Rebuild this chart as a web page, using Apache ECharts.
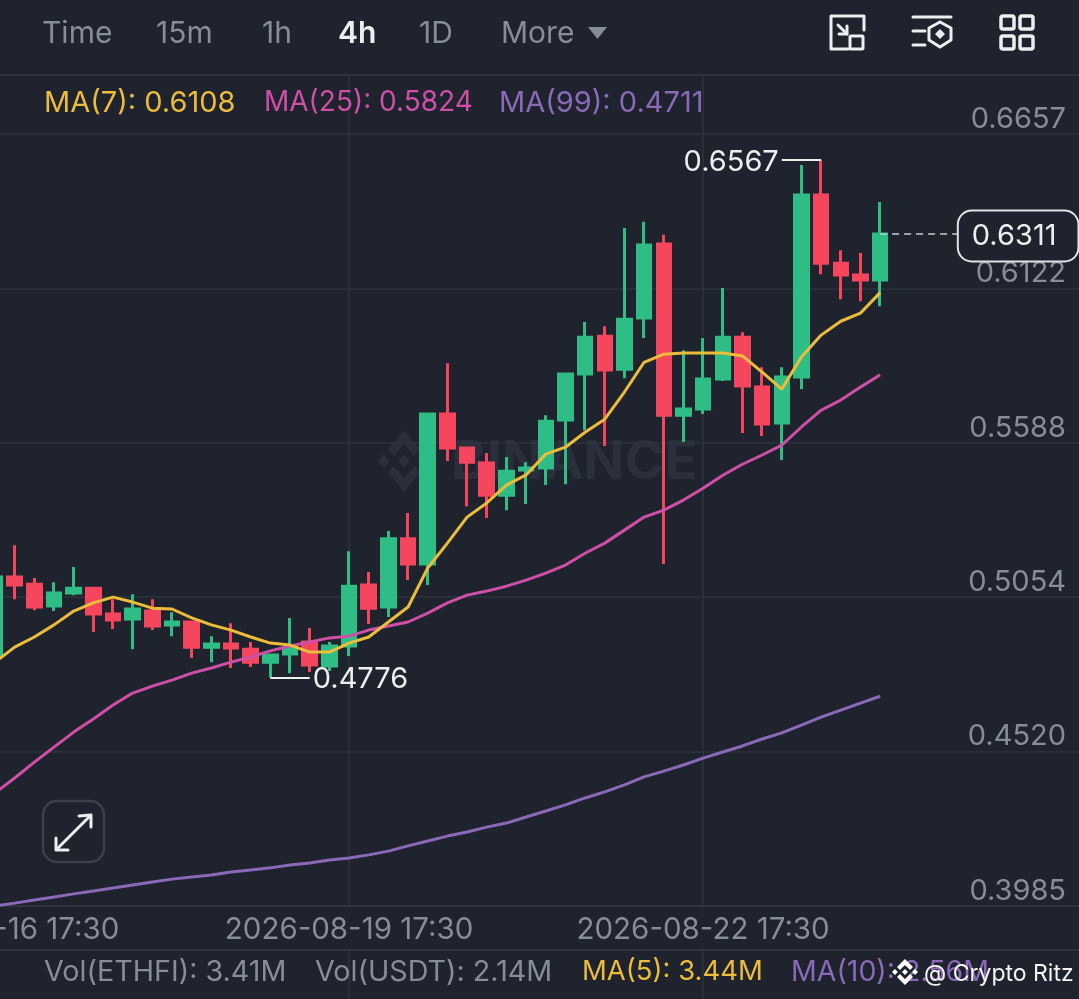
<!DOCTYPE html>
<html><head><meta charset="utf-8">
<style>html,body{margin:0;padding:0;background:#1e232d}#c{width:1079px;height:999px}</style>
<script src="https://cdn.jsdelivr.net/npm/echarts@6/dist/echarts.min.js"></script>
</head><body><div id="c"></div>
<script>
const times = ['2026-08-16 17:30','2026-08-16 21:30','2026-08-17 01:30','2026-08-17 05:30','2026-08-17 09:30','2026-08-17 13:30','2026-08-17 17:30','2026-08-17 21:30','2026-08-18 01:30','2026-08-18 05:30','2026-08-18 09:30','2026-08-18 13:30','2026-08-18 17:30','2026-08-18 21:30','2026-08-19 01:30','2026-08-19 05:30','2026-08-19 09:30','2026-08-19 13:30','2026-08-19 17:30','2026-08-19 21:30','2026-08-20 01:30','2026-08-20 05:30','2026-08-20 09:30','2026-08-20 13:30','2026-08-20 17:30','2026-08-20 21:30','2026-08-21 01:30','2026-08-21 05:30','2026-08-21 09:30','2026-08-21 13:30','2026-08-21 17:30','2026-08-21 21:30','2026-08-22 01:30','2026-08-22 05:30','2026-08-22 09:30','2026-08-22 13:30','2026-08-22 17:30','2026-08-22 21:30','2026-08-23 01:30','2026-08-23 05:30','2026-08-23 09:30','2026-08-23 13:30','2026-08-23 17:30','2026-08-23 21:30','2026-08-24 01:30','2026-08-24 05:30'];
const futureSlots = ['','','','','','','','','','',''];
const labelledTimes = ['2026-08-16 17:30','2026-08-19 17:30','2026-08-22 17:30'];
const priceTicks = [0.3985,0.4520,0.5054,0.5588,0.6122,0.6657];
// open, close, low, high
const candles = [
[.4854,.5124,.4836,.5124],[.5124,.5096,.5047,.5234],[.5099,.5020,.5009,.5120],[.5023,.5068,.5006,.5106],
[.5068,.5085,.5061,.5158],[.5085,.4996,.4933,.5086],[.4996,.4975,.4944,.5047],[.4978,.5013,.4874,.5064],
[.5006,.4954,.4940,.5047],[.4958,.4968,.4919,.5002],[.4968,.4881,.4843,.4968],[.4881,.4892,.4829,.4919],
[.4892,.4878,.4809,.4964],[.4874,.4829,.4812,.4899],[.4829,.4854,.4776,.4854],[.4857,.4878,.4791,.4982],
[.4899,.4819,.4795,.4947],[.4816,.4885,.4798,.4899],[.4885,.5092,.4850,.5213],[.5096,.5016,.4961,.5141],
[.5020,.5256,.4985,.5283],[.5256,.5169,.5113,.5345],[.5169,.5688,.5096,.5688],[.5688,.5570,.5525,.5864],
[.5570,.5521,.5369,.5570],[.5518,.5407,.5328,.5553],[.5407,.5490,.5355,.5539],[.5494,.5501,.5376,.5521],
[.5501,.5663,.5442,.5684],[.5667,.5826,.5445,.5829],[.5826,.5954,.5632,.6006],[.5957,.5840,.5577,.5992],
[.5843,.6016,.5812,.6332],[.6020,.6273,.5951,.6353],[.6276,.5684,.5169,.6308],[.5684,.5705,.5591,.5909],
[.5705,.5809,.5688,.5951],[.5809,.5954,.5802,.6124],[.5954,.5785,.5622,.5971],[.5781,.5653,.5612,.5850],
[.5657,.5816,.5529,.5850],[.5816,.6446,.5774,.6550],[.6446,.6210,.6172,.6567],[.6210,.6169,.6085,.6255],
[.6169,.6152,.6078,.6245],[.6152,.6311,.6061,.6422]];
const ma7 = [.4829,.4881,.4916,.4958,.5006,.5034,.5054,.5037,.5016,.5013,.4982,.4958,.4940,.4916,.4895,.4888,.4864,.4864,.4895,.4916,.4968,.5020,.5155,.5241,.5331,.5380,.5442,.5477,.5549,.5573,.5625,.5670,.5764,.5867,.5895,.5899,.5899,.5899,.5889,.5833,.5774,.5885,.5961,.6009,.6037,.6108];
const ma25 = [.4376,.4428,.4483,.4535,.4587,.4632,.4681,.4722,.4746,.4767,.4791,.4809,.4829,.4847,.4868,.4885,.4899,.4913,.4919,.4940,.4954,.4968,.4999,.5034,.5061,.5075,.5092,.5113,.5137,.5165,.5206,.5241,.5286,.5331,.5355,.5390,.5431,.5476,.5514,.5546,.5580,.5643,.5701,.5736,.5781,.5824];
const ma99 = [.3985,.3995,.4006,.4016,.4027,.4037,.4047,.4058,.4068,.4078,.4085,.4092,.4103,.4110,.4117,.4127,.4134,.4144,.4151,.4162,.4175,.4193,.4210,.4227,.4241,.4258,.4272,.4293,.4314,.4335,.4359,.4380,.4404,.4432,.4452,.4473,.4497,.4518,.4539,.4563,.4584,.4611,.4639,.4663,.4687,.4711];
const highIndex = 42, highValue = 0.6567, lowIndex = 14, lowValue = 0.4776, lastValue = 0.6311;
const volLabels = ['Vol(ETHFI): 3.41M','Vol(USDT): 2.14M','MA(5): 3.44M','MA(10): 2.56M'];
const tabs = ['Time','15m','1h','4h','1D','More'];

const BG='#1e232d', GRID='#2e343e', AXIS='#858d99', GREEN='#2ebd85', RED='#f6465d', YEL='#ecbc3a', PINK='#cf4fa6', PUR='#8a6ab8', WHITE='#eceef0';
const FONT='Inter, Roboto, sans-serif';
const LOGO_PIECES=[
 [[38.73,53.2],[63.32,28.62],[87.92,53.22],[102.22,38.91],[63.32,0],[24.42,38.9]],
 [[0,63.31],[14.3,49],[28.61,63.31],[14.3,77.61]],
 [[38.73,73.41],[63.32,98],[87.92,73.4],[102.23,87.69],[63.33,126.6],[24.42,87.7]],
 [[97.99,63.31],[112.29,49],[126.61,63.31],[112.3,77.61]],
 [[63.32,48.78],[77.83,63.3],[63.32,77.78],[48.81,63.28]]];
const logo=(x,y,w,h,fill,z)=>LOGO_PIECES.map(p=>({type:'polygon',z,shape:{points:p.map(q=>[x+q[0]/126.61*w,y+q[1]/126.6*h])},style:{fill}}));

const cats = times.concat(futureSlots);
const isLabelled = (i,v)=>labelledTimes.includes(v);
const txt=(x,y,text,fill,size,weight)=>({type:'text',x,y,z:100,style:{text,fill,font:`${weight||400} ${size}px ${FONT}`,textBaseline:'middle',verticalAlign:'middle'}});
const stroke=(shapeType,shape,color,w,z)=>({type:shapeType,shape,z:z||100,style:{stroke:color,fill:null,lineWidth:w,lineCap:'round',lineJoin:'round'}});
const poly=(pts,color,w)=>stroke('polyline',{points:pts},color,w);
const tabX=[42,156,262,338,419,501];
const graphics=[
  ...logo(378,430,52,62,'#2a303b',0),
  {type:'text',x:451,y:463,z:0,style:{text:'BINANCE',fill:'#2a303b',font:`700 54px ${FONT}`,textBaseline:'middle',verticalAlign:'middle'}},
  stroke('line',{x1:0,y1:75,x2:1079,y2:75},GRID,2,1),
  ...tabs.map((t,i)=>txt(tabX[i],34,t,t==='4h'?WHITE:AXIS,30,t==='4h'?600:400)),
  {type:'polygon',z:100,shape:{points:[[588,27],[607,27],[597.5,39]]},style:{fill:AXIS}},
  poly([[848,49],[831,49],[831,16],[864,16],[864,30]],WHITE,3),
  stroke('rect',{x:850,y:36,width:13,height:13,r:1},WHITE,3),
  poly([[838,25],[847,34]],WHITE,3),poly([[847,26],[847,34],[839,34]],WHITE,3),
  poly([[913,17],[951,17]],WHITE,3),poly([[913,31],[925,31]],WHITE,3),poly([[913,45],[925,45]],WHITE,3),
  poly([[940,22],[951,28],[951,40],[940,47],[929,40],[929,28],[940,22]],WHITE,3),
  {type:'polygon',z:100,shape:{points:[[940,29],[945,34],[940,39],[935,34]]},style:{fill:WHITE}},
  stroke('rect',{x:1001,y:16,width:13,height:13,r:2},WHITE,3.5),stroke('rect',{x:1020,y:16,width:13,height:13,r:2},WHITE,3.5),
  stroke('rect',{x:1001,y:36,width:13,height:13,r:2},WHITE,3.5),stroke('rect',{x:1020,y:36,width:13,height:13,r:2},WHITE,3.5),
  txt(44,103,'MA(7): '+ma7[ma7.length-1].toFixed(4),YEL,29),
  txt(264,103,'MA(25): '+ma25[ma25.length-1].toFixed(4),PINK,28),
  txt(499,103,'MA(99): '+ma99[ma99.length-1].toFixed(4),PUR,29),
  {type:'rect',z:100,shape:{x:43,y:801,width:61,height:61,r:14},style:{stroke:'#3a414c',fill:BG,lineWidth:2.5}},
  poly([[57,849],[90,816]],WHITE,3),poly([[79,816],[91,815],[91,827]],WHITE,3),poly([[56,838],[56,850],[68,850]],WHITE,3),
  txt(44,972,volLabels[0],AXIS,28.7),txt(315,972,volLabels[1],AXIS,28.7),
  txt(582,972,volLabels[2],YEL,27.5),txt(791,972,volLabels[3],PUR,28.5),
  ...logo(892,959,26,26,'#ffffff',101),
  txt(924,974,'@ Crypto Ritz','#f4f4f4',23)
];

const chart=echarts.init(document.getElementById('c'),null,{renderer:'canvas'});
const LBL={color:WHITE,fontSize:29,fontFamily:FONT,offset:[0,2]};
chart.setOption({
  animation:false,backgroundColor:BG,
  grid:[{left:-5,top:75,width:1101.5,height:831,containLabel:false,outerBoundsMode:'none'},{left:-5,top:950,width:1101.5,height:49,outerBoundsMode:'none'}],
  xAxis:[
   {type:'category',gridIndex:0,data:cats,boundaryGap:false,
    axisLine:{show:true,onZero:false,lineStyle:{color:GRID,width:2}},axisTick:{show:false},
    axisLabel:{color:AXIS,fontSize:29.5,fontFamily:FONT,margin:9,interval:isLabelled,showMinLabel:true,hideOverlap:false},
    splitLine:{show:true,interval:isLabelled,lineStyle:{color:GRID,width:1.5}}},
   {type:'category',gridIndex:1,data:cats,boundaryGap:false,position:'top',
    axisLine:{show:true,onZero:false,lineStyle:{color:GRID,width:2}},axisTick:{show:false},axisLabel:{show:false},
    splitLine:{show:true,interval:isLabelled,lineStyle:{color:GRID,width:1.5}}}
  ],
  yAxis:[
   {type:'value',gridIndex:0,position:'right',min:0.3985,max:0.68613,scale:true,
    axisLine:{show:false},
    axisTick:{show:false,customValues:priceTicks},
    axisLabel:{customValues:priceTicks,inside:true,color:AXIS,fontSize:29,fontFamily:FONT,margin:30.5,verticalAlign:'bottom',lineHeight:30,formatter:v=>v.toFixed(4)},
    splitLine:{show:true,lineStyle:{color:GRID,width:1.5}}},
   {type:'value',gridIndex:1,min:0,max:1,show:false,splitLine:{show:false}}
  ],
  series:[
   {type:'candlestick',name:'ETHFI',xAxisIndex:0,yAxisIndex:0,z:3,data:candles,barWidth:14,
    itemStyle:{color:GREEN,color0:RED,borderColor:GREEN,borderColor0:RED,borderWidth:3},
    markLine:{silent:true,symbol:'none',animation:false,z:6,
     data:[
      [{coord:[highIndex,highValue],lineStyle:{color:WHITE,width:1.8,type:'solid'},label:Object.assign({show:true,position:'end',distance:3,formatter:highValue.toFixed(4)},LBL)},{coord:[highIndex-2,highValue]}],
      [{coord:[lowIndex,lowValue],lineStyle:{color:WHITE,width:1.8,type:'solid'},label:Object.assign({show:true,position:'end',distance:3,formatter:lowValue.toFixed(4)},LBL)},{coord:[lowIndex+2,lowValue]}],
      [{coord:[times.length-1,lastValue],lineStyle:{color:'#c9ccd1',width:1.6,type:[7,5]},label:Object.assign({show:true,position:'end',distance:0,formatter:lastValue.toFixed(4),backgroundColor:BG,borderColor:'#dfe2e6',borderWidth:2,borderRadius:13,padding:[10,21,10,13]},LBL)},{coord:[times.length+3,lastValue]}]
     ]}},
   {type:'line',name:'MA7',data:ma7,z:5,symbol:'none',lineStyle:{color:YEL,width:3}},
   {type:'line',name:'MA25',data:ma25,z:4,symbol:'none',lineStyle:{color:PINK,width:3}},
   {type:'line',name:'MA99',data:ma99,z:4,symbol:'none',lineStyle:{color:PUR,width:3}}
  ],
  graphic:{elements:graphics}
});
</script></body></html>
